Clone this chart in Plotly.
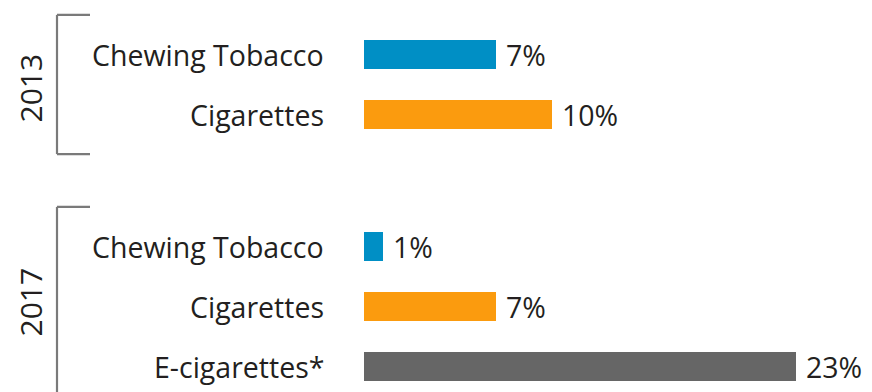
import plotly.graph_objects as go

# ---- data ----
years = ["2013", "2017"]
cat_2013 = ["Chewing Tobacco", "Cigarettes"]
val_2013 = [7, 10]
cat_2017 = ["Chewing Tobacco", "Cigarettes", "E-cigarettes*"]
val_2017 = [1, 7, 23]
product_colors = {"Chewing Tobacco": "#008FC5", "Cigarettes": "#FB9B0E", "E-cigarettes*": "#666666"}

groups = [(years[0], cat_2013, val_2013), (years[1], cat_2017, val_2017)]

# page body has an 8px default margin; work in page pixels, convert to figure pixels
OFF = 8
PAGE_W, PAGE_H = 872, 392
W, H = PAGE_W - OFF, PAGE_H - OFF
LEFT_PAGE = 364
LEFT = LEFT_PAGE - OFF
PX_PER_UNIT = 18.8
plot_w = W - LEFT
xmax = plot_w / PX_PER_UNIT

SLOT_PX = 60.0
FIRST_PX = 54.5 - OFF
GROUP_GAP = 2.2
ymin = -FIRST_PX / SLOT_PX
ymax = (H - FIRST_PX) / SLOT_PX

def px_to_paper_x(page_px):
    return (page_px - LEFT_PAGE) / plot_w

TEXT = "#231f20"
FONT = "Open Sans"

fig = go.Figure()
annotations = []
shapes = []

for gi, (yr, cats, vals) in enumerate(groups):
    base = 0 if gi == 0 else GROUP_GAP + 1
    ys = [base + i for i in range(len(cats))]
    fig.add_trace(go.Bar(
        x=vals, y=ys, orientation="h", width=0.48,
        marker=dict(color=[product_colors[c] for c in cats], line=dict(width=0)),
        showlegend=False, hoverinfo="skip",
    ))
    for c, v, y in zip(cats, vals, ys):
        annotations.append(dict(x=px_to_paper_x(326), xref="paper", y=y, yref="y",
                                text=c, showarrow=False, xanchor="right", yanchor="middle",
                                font=dict(family=FONT, size=28.5, color=TEXT)))
        annotations.append(dict(x=v, xref="x", y=y, yref="y", text=f"{v}%",
                                showarrow=False, xanchor="left", yanchor="middle", xshift=8,
                                font=dict(family=FONT, size=28.5, color=TEXT)))
    top = ys[0] - 0.66
    bot = ys[-1] + 0.66
    x0 = px_to_paper_x(57)
    x1 = px_to_paper_x(90)
    lc = dict(color="#7a7a7a", width=2.2)
    shapes.append(dict(type="line", xref="paper", yref="y", x0=x0, x1=x0, y0=top, y1=bot, line=lc))
    shapes.append(dict(type="line", xref="paper", yref="y", x0=x0, x1=x1, y0=top, y1=top, line=lc))
    shapes.append(dict(type="line", xref="paper", yref="y", x0=x0, x1=x1, y0=bot, y1=bot, line=lc))
    annotations.append(dict(x=px_to_paper_x(30), xref="paper", y=(ys[0] + ys[-1]) / 2, yref="y",
                            text=yr, showarrow=False, textangle=-90, xanchor="center", yanchor="middle",
                            borderpad=0, yshift=-4 if gi == 0 else 4,
                            font=dict(family=FONT, size=30, color=TEXT)))

fig.update_layout(
    width=W, height=H,
    margin=dict(l=LEFT, r=0, t=0, b=0),
    paper_bgcolor="white", plot_bgcolor="white",
    xaxis=dict(range=[0, xmax], visible=False, fixedrange=True),
    yaxis=dict(range=[ymax, ymin], visible=False, fixedrange=True),
    annotations=annotations, shapes=shapes,
    bargap=0,
)
fig.write_html("out.html")
